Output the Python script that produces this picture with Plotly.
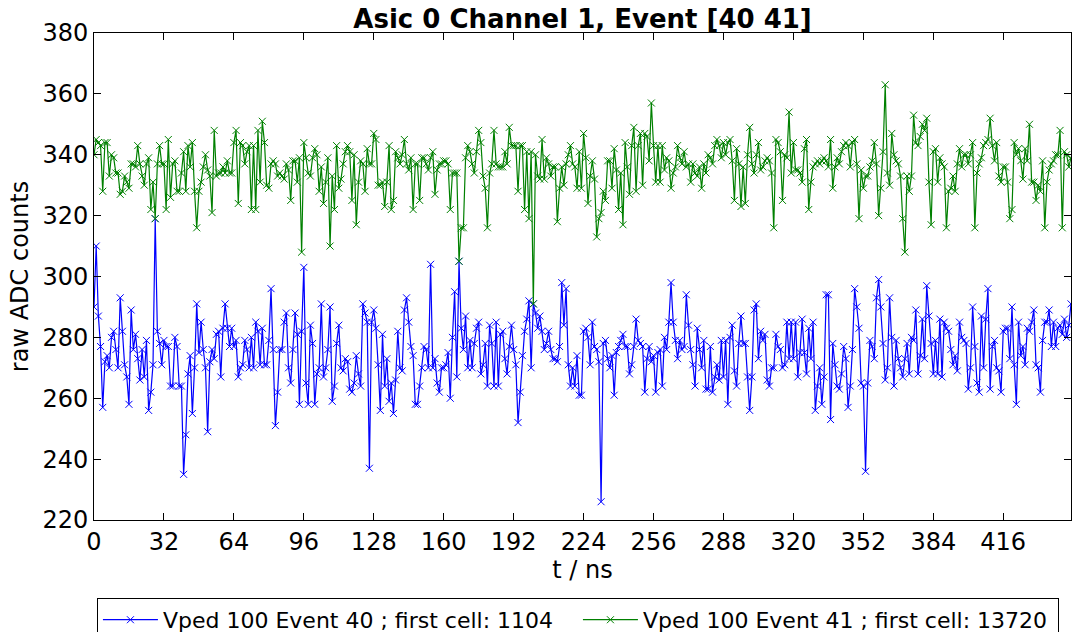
import numpy as np
import plotly.graph_objects as go

title_text = "Asic 0 Channel 1, Event [40 41]"
name_blue = "Vped 100 Event 40 ; first cell: 1104"
name_green = "Vped 100 Event 41 ; first cell: 13720"

x_ticks = [0, 32, 64, 96, 128, 160, 192, 224, 256, 288, 320, 352, 384, 416]
y_ticks = [220, 240, 260, 280, 300, 320, 340, 360, 380]

blue_seg1 = [290, 310, 287, 277, 257, 272, 274, 270, 280, 282,
             276, 270, 293, 282, 271, 267, 258, 289, 276, 281,
             273, 266, 276, 267, 279, 256, 262, 271, 319, 282,
             278, 271, 279, 277, 277, 264, 264, 280, 277, 264,
             264, 235, 248, 268, 274, 255, 270, 291, 275, 285,
             276, 270, 249, 272, 276, 273, 281, 282, 267, 283,
             291, 283, 277, 283, 277, 279, 267, 270, 271, 279,
             276, 270, 280]
blue_seg2 = [270, 285, 282, 271, 283, 271, 271, 279, 296, 276,
             251, 262, 276, 276, 285, 288, 270, 265, 276, 288,
             281, 258, 282, 303, 265, 258, 284, 278, 258, 268,
             270, 291, 267, 270, 276, 290, 259, 264, 278, 284,
             270, 269, 273, 272, 263, 262, 265, 274, 268, 264,
             291, 288, 285, 237, 285, 289, 283, 271, 256, 281,
             264, 273, 259, 265, 255, 266, 282, 270, 269, 289,
             293, 285, 277, 274, 258]
blue_seg3 = [258, 264, 270, 277, 276, 270, 304, 270, 273, 265,
             262, 270, 270, 271, 275, 260, 280, 295, 267, 305,
             283, 276, 287, 270, 279, 270, 278, 283, 285, 268,
             271, 278, 264, 284, 278, 264, 285, 264, 281, 282,
             273, 268, 277, 284, 276, 271, 252, 262, 274, 282,
             286, 292, 270, 291, 288, 283, 287, 282, 276, 278,
             282, 276, 273, 273, 272, 277, 298, 284, 296, 271,
             264, 270, 264, 274, 261]
blue_seg4 = [261, 282, 283, 280, 271, 285, 277, 276, 272, 226,
             278, 279, 273, 270, 274, 261, 275, 277, 279, 281,
             277, 277, 268, 271, 277, 286, 279, 278, 277, 262,
             273, 277, 272, 274, 262, 275, 276, 264, 280, 276,
             285, 298, 285, 279, 273, 279, 276, 277, 294, 284,
             276, 271, 264, 283, 276, 270, 279, 263, 263, 277,
             262, 267, 271, 266, 279, 267, 279, 258, 280, 284,
             269, 264, 278, 287, 278]
blue_seg5 = [278, 267, 256, 267, 289, 291, 273, 282, 279, 281,
             266, 264, 270, 270, 281, 277, 276, 270, 271, 285,
             273, 285, 273, 285, 267, 275, 286, 275, 268, 283,
             273, 285, 256, 264, 270, 258, 267, 294, 294, 253,
             278, 271, 264, 263, 268, 277, 273, 257, 264, 276,
             296, 290, 283, 265, 264, 236, 265, 279, 277, 273,
             293, 299, 290, 278, 266, 270, 293, 280, 264, 279,
             273, 270, 267, 273, 278]
blue_seg6 = [268, 280, 279, 289, 268, 274, 286, 273, 297, 287,
             278, 268, 279, 268, 286, 267, 285, 283, 282, 276,
             271, 274, 269, 285, 280, 279, 278, 263, 270, 290,
             277, 265, 262, 287, 270, 286, 296, 263, 277, 279,
             270, 269, 262, 282, 283, 283, 273, 290, 271, 258,
             285, 274, 277, 271, 283, 282, 285, 289, 271, 270,
             262, 279, 285, 285, 289, 277, 285, 277, 283, 284,
             281, 286, 280, 284, 291]

green_seg1 = [340, 345, 344, 343, 328, 344, 344, 333, 340, 339,
              334, 334, 327, 328, 333, 331, 329, 337, 337, 336,
              343, 337, 333, 330, 337, 339, 322, 331, 319, 337,
              343, 337, 337, 322, 345, 326, 337, 338, 328, 328,
              334, 341, 328, 343, 336, 344, 328, 316, 328, 331,
              336, 340, 335, 333, 321, 348, 333, 334, 334, 336,
              334, 338, 334, 334, 344, 348, 324, 344, 343, 337,
              341, 343, 322]
green_seg2 = [343, 322, 348, 331, 351, 344, 330, 329, 337,
              338, 337, 333, 334, 333, 332, 337, 335, 325, 338,
              338, 331, 339, 308, 344, 339, 334, 333, 339, 342,
              340, 328, 336, 324, 331, 339, 310, 333, 322, 343,
              329, 332, 337, 341, 343, 341, 325, 340, 317, 331,
              338, 337, 328, 342, 337, 337, 347, 345, 330, 330,
              331, 323, 331, 343, 322, 325, 341, 339, 337, 340,
              345, 337, 335, 339, 322, 337]
green_seg3 = [337, 325, 339, 339, 337, 335, 339, 341, 327, 335,
              337, 337, 338, 338, 337, 322, 334, 334, 334, 305,
              316, 316, 339, 343, 341, 337, 334, 341, 348, 344,
              333, 329, 316, 334, 337, 348, 337, 336, 336, 336,
              341, 337, 349, 343, 343, 343, 328, 343, 343, 322,
              341, 319, 341, 291, 340, 333, 332, 345, 332, 339,
              337, 333, 336, 336, 318, 329, 336, 330, 337, 340,
              343, 337, 336, 329, 341]
green_seg4 = [329, 347, 339, 324, 333, 338, 332, 313, 319, 321,
              328, 325, 338, 338, 329, 342, 335, 322, 334, 317,
              344, 336, 327, 343, 349, 328, 343, 347, 330, 347,
              346, 338, 357, 343, 331, 343, 331, 343, 335, 339,
              338, 329, 334, 336, 343, 339, 337, 341, 336, 337,
              331, 337, 334, 333, 336, 329, 337, 334, 340, 339,
              337, 343, 345, 343, 339, 344, 340, 344, 345, 338,
              325, 342, 337, 323, 336]
green_seg5 = [324, 340, 349, 337, 334, 340, 344, 335, 336, 338,
              339, 338, 334, 316, 345, 344, 341, 325, 340, 339,
              354, 334, 344, 335, 335, 334, 331, 342, 345, 322,
              331, 336, 337, 338, 337, 338, 339, 338, 336, 345,
              329, 336, 339, 337, 341, 343, 344, 343, 336, 344,
              345, 337, 319, 335, 329, 333, 333, 336, 338, 344,
              337, 320, 329, 341, 363, 334, 330, 347, 340, 338,
              337, 333, 319, 308, 333]
green_seg6 = [328, 333, 353, 344, 343, 346, 350, 348, 352, 331,
              317, 341, 342, 331, 339, 337, 336, 316, 328, 329,
              333, 328, 337, 342, 336, 340, 340, 337, 340, 344,
              316, 334, 337, 339, 343, 344, 345, 352, 343, 338,
              344, 333, 331, 336, 336, 331, 319, 322, 344, 340,
              342, 338, 332, 342, 338, 350, 331, 331, 325, 330,
              328, 338, 316, 331, 335, 337, 338, 340, 340, 348,
              316, 341, 340, 336, 339]

blue = blue_seg1 + blue_seg2 + blue_seg3 + blue_seg4 + blue_seg5 + blue_seg6
green = green_seg1 + green_seg2 + green_seg3 + green_seg4 + green_seg5 + green_seg6

t_blue = list(range(len(blue)))
t_green = list(range(len(green)))

fig = go.Figure()
fig.add_trace(go.Scatter(
    x=t_blue, y=blue, mode="lines+markers", name=name_blue,
    line=dict(color="#0000ff", width=1.2),
    marker=dict(symbol="x-thin", size=7, color="#0000ff",
                line=dict(color="#0000ff", width=1)),
))
fig.add_trace(go.Scatter(
    x=t_green, y=green, mode="lines+markers", name=name_green,
    line=dict(color="#008000", width=1.2),
    marker=dict(symbol="x-thin", size=7, color="#008000",
                line=dict(color="#008000", width=1)),
))

axis_font = dict(family="DejaVu Sans", size=24, color="black")

fig.update_layout(
    width=1072, height=632,
    margin=dict(l=94, r=1, t=33, b=112, autoexpand=False),
    paper_bgcolor="white", plot_bgcolor="white",
    font=dict(family="DejaVu Sans", color="black"),
    title=dict(text="<b>" + title_text + "</b>", x=0.5, xref="paper",
               y=1, yref="paper", yanchor="bottom", pad=dict(b=5),
               font=dict(family="DejaVu Sans", size=26, color="black")),
    xaxis=dict(range=[0, 447], tickvals=x_ticks, ticks="inside", ticklen=7,
               tickcolor="black", mirror="ticks", showline=True,
               linecolor="black", linewidth=1, showgrid=False, zeroline=False,
               tickfont=axis_font,
               title=dict(text="t / ns", font=axis_font, standoff=2)),
    yaxis=dict(range=[220, 380], tickvals=y_ticks, ticks="inside", ticklen=7,
               tickcolor="black", mirror="ticks", showline=True,
               linecolor="black", linewidth=1, showgrid=False, zeroline=False,
               tickfont=axis_font,
               title=dict(text="raw ADC counts", font=axis_font, standoff=6)),
    legend=dict(orientation="h", x=0.003, xanchor="left", y=-0.16,
                yanchor="top", bgcolor="white", bordercolor="black",
                borderwidth=1, entrywidth=410, entrywidthmode="pixels",
                itemwidth=55,
                font=dict(family="DejaVu Sans", size=22, color="black")),
    showlegend=True,
)

fig.write_html("out.html")
